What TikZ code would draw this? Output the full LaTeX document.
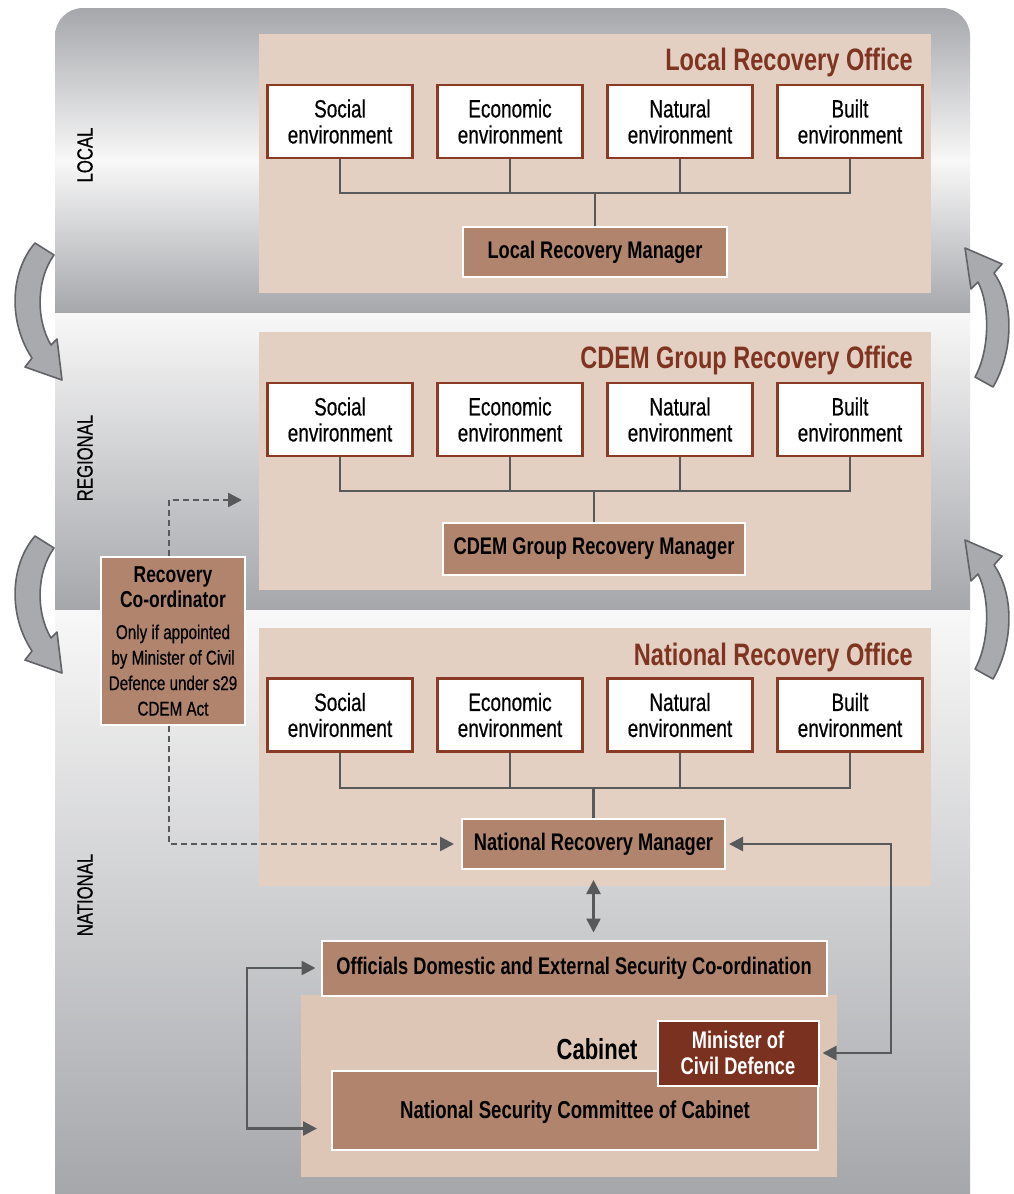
\documentclass[tikz,border=0pt]{standalone}
\usepackage{fontspec}
\setmainfont{Liberation Sans}[FakeStretch=0.76, UprightFeatures={FakeBold=0.5}]
\usetikzlibrary{arrows.meta}

\definecolor{bandgray}{HTML}{A6A7AB}
\definecolor{bandwhite}{HTML}{F8F8F8}
\definecolor{officebg}{HTML}{E3D0C3}
\definecolor{cabinetbg}{HTML}{DEC6B7}
\definecolor{mgrfill}{HTML}{B0846D}
\definecolor{envborder}{HTML}{8A3B25}
\definecolor{titlered}{HTML}{7E3421}
\definecolor{ministerfill}{HTML}{7B3120}
\definecolor{linegray}{HTML}{58595B}
\definecolor{arrowfill}{HTML}{A8AAAD}
\definecolor{arrowedge}{HTML}{626366}

\tikzset{
  tip/.style={-{Triangle[length=14pt,width=14pt]}},
  twoway/.style={conn,{Triangle[length=14pt,width=14pt]}-{Triangle[length=14pt,width=14pt]}},
}

\begin{document}
\begin{tikzpicture}[x=1pt, y=-1pt,
    envbox/.style={draw=envborder, line width=2.2pt, fill=white, minimum width=145pt,
      minimum height=73pt, inner sep=0pt, align=center, font=\fontsize{25}{26}\selectfont},
    mgrbox/.style={draw=white, line width=2pt, fill=mgrfill, minimum height=50pt,
      inner sep=0pt, font=\bfseries\fontsize{24}{26}\selectfont},
    officetitle/.style={anchor=base east, text=titlered, inner sep=0pt,
      font=\bfseries\fontsize{31}{31}\selectfont},
    level/.style={rotate=90, font=\fontsize{22}{22}\selectfont},
    conn/.style={draw=linegray, line width=2.5pt},
    dashconn/.style={conn, tip, dash pattern=on 6pt off 4pt},
    bigarrow/.style={fill=arrowfill, draw=arrowedge, line width=1.6pt, line join=round}]
  \useasboundingbox (0,0) rectangle (1013,1194);
  \fill[white] (0,0) rectangle (1013,1194);

  % bands
  \shade[top color=bandgray, bottom color=bandgray, middle color=bandwhite]
    (55,313) [rounded corners=28pt] -- (55,8) -- (970,8) [sharp corners] -- (970,313) -- cycle;
  \shade[top color=bandwhite, bottom color=bandgray] (55,313) rectangle (970,610);
  \shade[top color=bandwhite, bottom color=bandgray] (55,610) rectangle (970,1194);

  % office panels
  \fill[officebg] (259,34) rectangle (931,293);
  \fill[officebg] (259,332) rectangle (931,590);
  \fill[officebg] (259,628) rectangle (931,886);
  \fill[cabinetbg] (301,995) rectangle (837,1177);

  \node[level] (lvlloc) at (85,155) {LOCAL};
  \node[level] (lvlreg) at (85,458) {REGIONAL};
  \node[level] (lvlnat) at (85,895) {NATIONAL};

  \node[officetitle] (loctitle) at (913,70) {Local Recovery Office};
  \node[officetitle] (regtitle) at (913,368) {CDEM Group Recovery Office};
  \node[officetitle] (nattitle) at (913,665) {National Recovery Office};

  % environment boxes
  \foreach \lvl/\yy in {loc/121.5, reg/419.5, nat/715}
    \foreach \nm/\xx/\txt in {soc/340/Social, eco/510/Economic, natu/680/Natural, blt/850/Built}
      \node[envbox] (\lvl\nm) at (\xx,\yy) {\txt\\environment};

  \node[mgrbox, minimum width=264pt] (locmgr) at (595,252) {Local Recovery Manager};
  \node[mgrbox, minimum width=302pt, minimum height=52pt] (regmgr) at (594,549) {CDEM Group Recovery Manager};
  \node[mgrbox, minimum width=263pt] (natmgr) at (593.5,844) {National Recovery Manager};

  \coordinate (locbar) at (0,193);
  \coordinate (regbar) at (0,491);
  \coordinate (natbar) at (0,788);
  \foreach \lvl in {loc, reg, nat} {
    \draw[conn] (\lvl soc.south) -- (\lvl soc.south |- \lvl bar) -- (\lvl blt.south |- \lvl bar) -- (\lvl blt.south);
    \draw[conn] (\lvl eco.south) -- (\lvl eco.south |- \lvl bar);
    \draw[conn] (\lvl natu.south) -- (\lvl natu.south |- \lvl bar);
    \draw[conn] (\lvl mgr.north) -- (\lvl mgr.north |- \lvl bar);
  }

  % recovery co-ordinator
  \node[mgrbox, minimum width=144pt, minimum height=168pt, align=center,
    font=\mdseries\fontsize{20}{25.5}\selectfont] (coord) at (173,641)
    {{\bfseries\fontsize{23}{27}\selectfont Recovery}\\
     {\bfseries\fontsize{23}{27}\selectfont Co-ordinator}\\[6pt]
     Only if appointed\\by Minister of Civil\\Defence under s29\\CDEM Act};
  \coordinate (regtip) at (242,500);
  \draw[dashconn] ([xshift=-4pt]coord.north) |- (regtip);
  \draw[dashconn] ([xshift=-4pt]coord.south) |- ([xshift=-7pt]natmgr.west);

  % cabinet
  \node[mgrbox, minimum width=505pt, minimum height=55pt]
    (officials) at (574,968) {Officials Domestic and External Security Co-ordination};
  \node[font=\bfseries\fontsize{29}{29}\selectfont] (cabinet) at (597,1049) {Cabinet};
  \node[mgrbox, minimum width=486pt, minimum height=79pt, font=\bfseries\fontsize{24.5}{26}\selectfont,
    text depth=2pt] (nsc) at (575,1110.5) {National Security Committee of Cabinet};
  \node[mgrbox, fill=ministerfill, text=white, minimum width=161pt, minimum height=65pt, align=center,
    font=\bfseries\fontsize{24}{26}\selectfont] (minister) at (738,1053) {Minister of\\Civil Defence};

  \draw[twoway] ([yshift=-10pt]natmgr.south) -- ([yshift=7pt]natmgr.south |- officials.north);
  \coordinate (rloop) at (891,0);
  \draw[twoway] ([xshift=3pt]natmgr.east) -- (natmgr.east -| rloop) -- (minister.east -| rloop) -- ([xshift=3pt]minister.east);
  \coordinate (lloop) at (247,0);
  \draw[twoway] ([xshift=-5pt]officials.west) -- (officials.west -| lloop)
    -- ([yshift=-18pt]nsc.west -| lloop) -- ([xshift=-14pt,yshift=-18pt]nsc.west);

  % curved arrows between levels
  \foreach \dy in {0,293}
    \filldraw[bigarrow, yshift=-\dy pt] (35,243) -- (54,255) .. controls (36,280) and (36,320) .. (51,345)
      -- (57,339) -- (62,380) -- (25,367) -- (32,358) .. controls (8,322) and (10,272) .. (35,243) -- cycle;
  \foreach \dy in {0,292}
    \filldraw[bigarrow, yshift=-\dy pt] (965,248) -- (1002,264) -- (994,273) .. controls (1016,305) and (1012,355) .. (993,387)
      -- (975,377) .. controls (990,350) and (990,305) .. (978,282) -- (971,289) -- cycle;
\end{tikzpicture}
\end{document}
